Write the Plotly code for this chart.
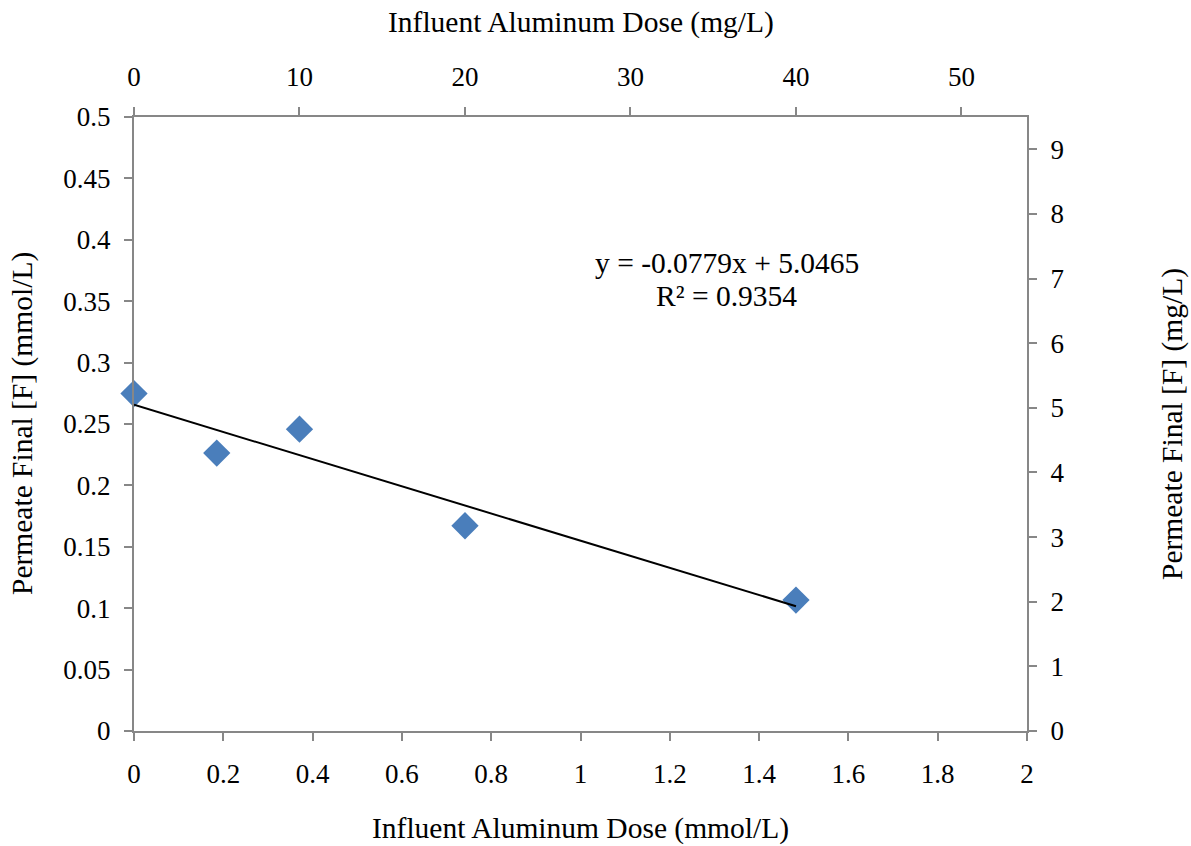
import plotly.graph_objects as go

# Influent aluminium dose and permeate fluoride, both in mg/L
al_dose_mgL = [0, 5, 10, 20, 40]
f_final_mgL = [5.22, 4.30, 4.67, 3.175, 2.026]

# Linear trendline reported on the chart (mg/L vs mg/L)
slope = -0.0779
intercept = 5.0465
r_squared = 0.9354
trend_x = [0, 40]
trend_y = [intercept + slope * x for x in trend_x]

# Molar masses used to relate the mg/L and mmol/L axes
M_AL = 26.98
M_F = 18.998
x_max_mmol = 2.0
y_max_mmol = 0.5

al_dose_mmol = [v / M_AL for v in al_dose_mgL]
f_final_mmol = [v / M_F for v in f_final_mgL]

bottom_ticks = [0, 0.2, 0.4, 0.6, 0.8, 1, 1.2, 1.4, 1.6, 1.8, 2]
left_ticks = [0, 0.05, 0.1, 0.15, 0.2, 0.25, 0.3, 0.35, 0.4, 0.45, 0.5]
top_ticks = [0, 10, 20, 30, 40, 50]
right_ticks = [0, 1, 2, 3, 4, 5, 6, 7, 8, 9]

FONT = "Liberation Serif"
AXIS_COLOR = "#878787"
TICK_FS = 27
TEXT_FS = 29.5

fig = go.Figure()

# Measured points, drawn on the mmol/L axes
fig.add_trace(go.Scatter(
    x=al_dose_mmol, y=f_final_mmol,
    mode="markers",
    marker=dict(symbol="diamond", size=21, color="#4a7ebb",
                line=dict(width=0)),
    showlegend=False, cliponaxis=False,
))

# Trendline, drawn on the mg/L axes
fig.add_trace(go.Scatter(
    x=trend_x, y=trend_y, xaxis="x2", yaxis="y2",
    mode="lines", line=dict(color="black", width=2),
    showlegend=False,
))

axis_common = dict(
    showgrid=False, zeroline=False, showline=True,
    linecolor=AXIS_COLOR, linewidth=2,
    ticks="outside", ticklen=8, tickwidth=2, tickcolor=AXIS_COLOR,
    tickfont=dict(family=FONT, size=TICK_FS, color="black"),
)

fig.update_layout(
    width=1191, height=846,
    margin=dict(l=134, r=164, t=117, b=115),
    paper_bgcolor="white", plot_bgcolor="white",
    font=dict(family=FONT, size=TEXT_FS, color="black"),
    xaxis=dict(range=[0, x_max_mmol], tickvals=bottom_ticks,
               ticktext=[f"{v:g}" for v in bottom_ticks],
               ticklabelstandoff=10, **axis_common),
    yaxis=dict(range=[0, y_max_mmol], tickvals=left_ticks,
               ticktext=[f"{v:g}" for v in left_ticks],
               ticklabelstandoff=8, **axis_common),
    xaxis2=dict(range=[0, x_max_mmol * M_AL], tickvals=top_ticks,
                overlaying="x", side="top", anchor="y",
                ticklabelstandoff=10, **axis_common),
    yaxis2=dict(range=[0, y_max_mmol * M_F], tickvals=right_ticks,
                overlaying="y", side="right", anchor="x",
                ticklabelstandoff=8, **axis_common),
)

annotations = [
    dict(text="Influent Aluminum Dose (mmol/L)", x=0.5, y=-0.158),
    dict(text="Influent Aluminum Dose (mg/L)", x=0.5, y=1.1547),
    dict(text="Permeate Final [F] (mmol/L)", x=-0.1254, y=0.5, textangle=-90),
    dict(text="Permeate Final [F] (mg/L)", x=1.1624, y=0.5, textangle=-90),
    dict(text=f"y = {slope}x + {intercept}", x=0.664, y=0.762),
    dict(text=f"R² = {r_squared}", x=0.664, y=0.7085),
]
for a in annotations:
    a.update(xref="paper", yref="paper", xanchor="center", yanchor="middle",
             showarrow=False,
             font=dict(family=FONT, size=TEXT_FS, color="black"))
fig.update_layout(annotations=annotations)

fig.write_html("out.html")
